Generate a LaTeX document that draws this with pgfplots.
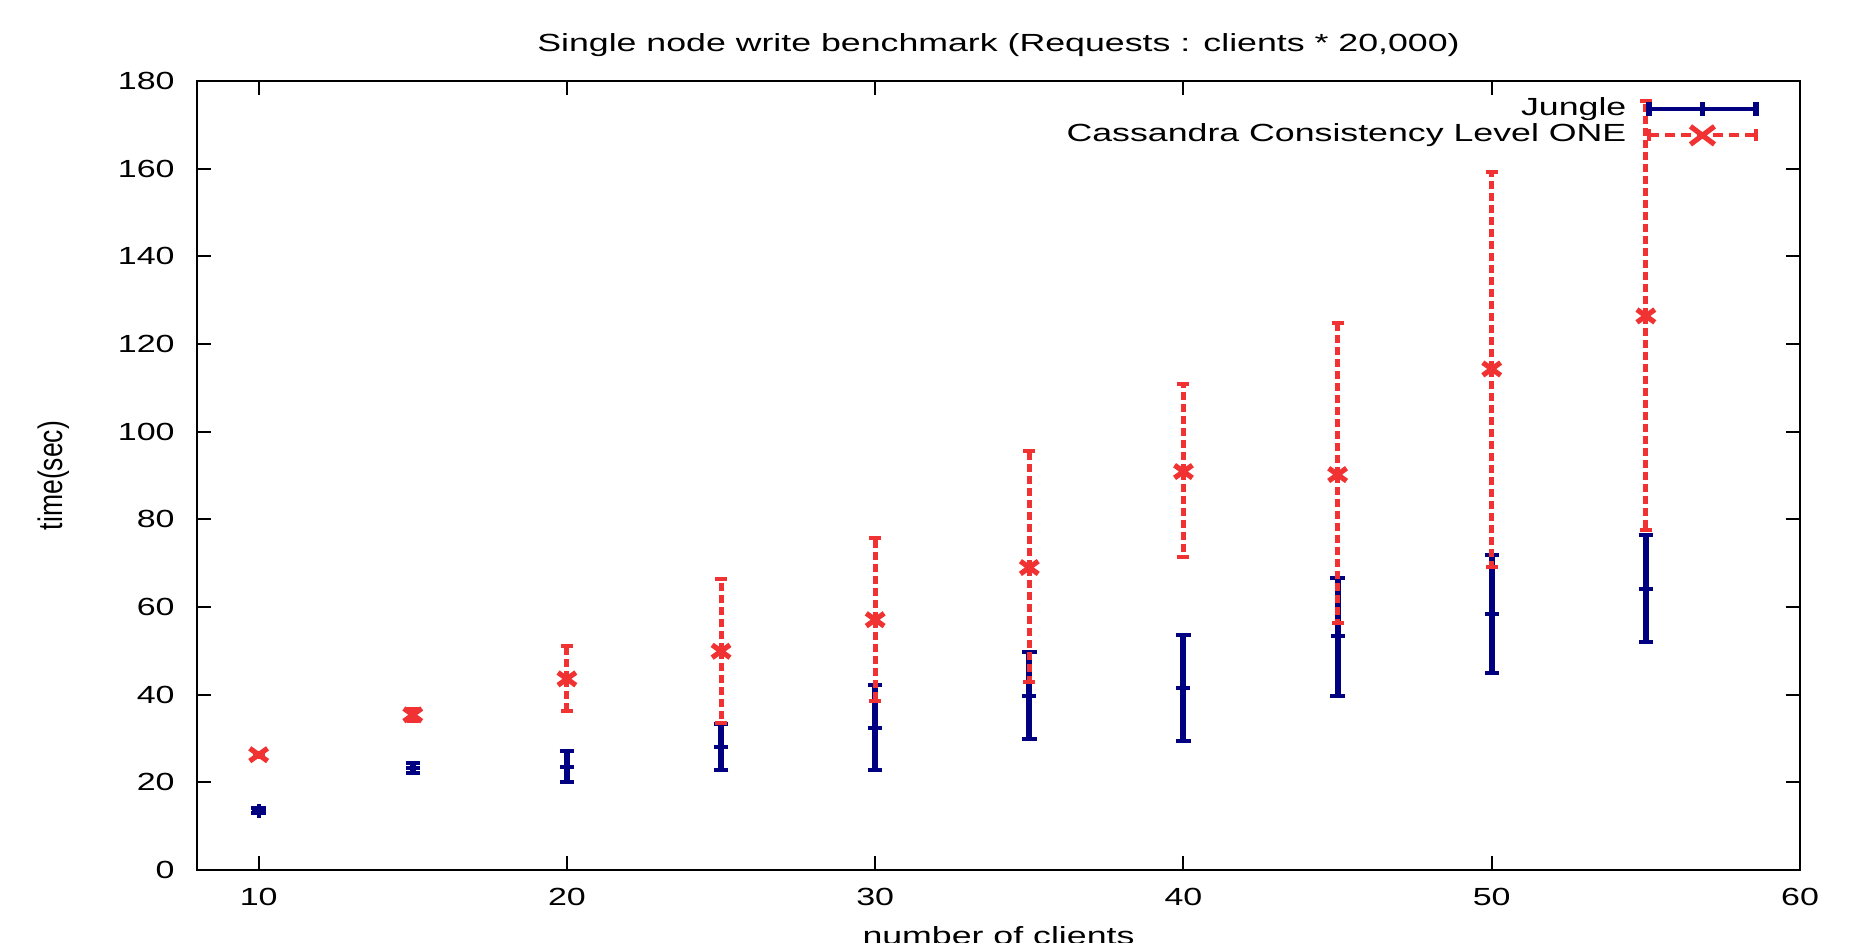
\documentclass[border=0pt]{standalone}
\usepackage{fontspec}
\setmainfont{Liberation Sans}
\usepackage{pgfplots}
\pgfplotsset{compat=1.18}
\usepackage{pgfplotstable}

\definecolor{jblue}{RGB}{0,0,128}
\definecolor{cred}{RGB}{240,50,50}
% gnuplot output was stretched sideways, so stretch the text the same way
\newcommand\sx[1]{\scalebox{1.37}[1]{#1}}
\newcommand\sw[1]{\scalebox{1.44}[1]{#1}}
\newcommand\lbl{\fontsize{12.4}{14}\selectfont}

% x  mean  plus  minus
\pgfplotstableread{
x  y     ep    em
10 13.5  0.6   0.6
15 23.3  1.1   1.1
20 23.5  3.7   3.5
25 28.1  5.1   5.2
30 32.5  9.7   9.7
35 39.6  10.1  9.8
40 41.5  12.2  12.1
45 53.3  13.4  13.6
50 58.4  13.5  13.5
55 64.1  12.4  12.1
}\jungle

\pgfplotstableread{
x  y      ep    em
10 26.3   0.5   0.5
15 35.4   1.3   1.3
20 43.6   7.6   7.4
25 49.9   16.4  16.3
30 57.1   18.6  18.5
35 69.0   26.6  26.1
40 90.9   19.9  19.4
45 90.2   34.5  33.9
50 114.3  45.0  45.1
55 126.4  49.0  48.9
}\cassandra

\begin{document}
\begin{tikzpicture}
\begin{axis}[
    scale only axis,
    width=801.5pt, height=394.5pt,
    xmin=8, xmax=60, ymin=0, ymax=180,
    xtick={10,20,30,40,50,60},
    xticklabels={\sx{10},\sx{20},\sx{30},\sx{40},\sx{50},\sx{60}},
    ytick={0,20,40,60,80,100,120,140,160,180},
    yticklabels={\sx{0},\sx{20},\sx{40},\sx{60},\sx{80},\sx{100},\sx{120},\sx{140},\sx{160},\sx{180}},
    xtick pos=both, ytick pos=both,
    xticklabel pos=lower, yticklabel pos=left,
    tick align=inside,
    major tick length=7pt,
    every tick/.style={black, line width=1pt},
    axis line style={line width=1.1pt},
    font=\lbl,
    xticklabel style={anchor=north, inner sep=0pt, yshift=-9pt},
    yticklabel style={anchor=east, inner sep=0pt, xshift=-11pt},
    every axis title/.style={at={(axis description cs:0.5,1.046)}, anchor=center, font=\lbl},
    every axis x label/.style={at={(axis description cs:0.5,-0.071)}, anchor=north, inner sep=0pt, font=\lbl},
    every axis y label/.style={at={(axis description cs:-0.0896,0.5)}, anchor=center, rotate=90, font=\lbl},
    title={\sw{Single node write benchmark (Requests : clients * 20,000)}},
    xlabel={\sw{number of clients}},
    ylabel={\scalebox{1.07}[1.37]{time(sec)}},
    legend style={at={(axis description cs:0.9744,0.981)}, anchor=north east,
        draw=none, fill=none, inner sep=0pt, row sep=0pt, column sep=9pt,
        nodes={inner sep=1pt, text height=8.6pt, text depth=2.4pt}, font=\lbl},
    legend plot pos=right,
    legend cell align=right,
]

\addplot[only marks, jblue, mark=+, mark size=3.5pt, mark options={line width=2pt},
    legend image code/.code={
        \draw[jblue, line width=2pt] (0pt,0pt) -- (53.5pt,0pt);
        \draw[jblue, line width=2.6pt] (0pt,-3.5pt) -- (0pt,3.5pt)
            (53.5pt,-3.5pt) -- (53.5pt,3.5pt)
            (26.75pt,-3.5pt) -- (26.75pt,3.5pt);
    },
    error bars/.cd, y dir=both, y explicit,
    error bar style={line width=3pt, jblue},
    error mark options={rotate=90, jblue, line width=2pt, mark size=3.6pt}]
    table[x=x, y=y, y error plus=ep, y error minus=em]{\jungle};
\addlegendentry{\sw{Jungle}}

\addplot[only marks, cred, mark=x, mark size=4.5pt,
    mark options={solid, line width=2.6pt, xscale=1.4},
    legend image code/.code={
        \draw[cred, line width=2pt, dash pattern=on 5pt off 3pt] (0pt,0pt) -- (53.5pt,0pt);
        \draw[cred, line width=2.4pt] (0pt,-3pt) -- (0pt,3pt)
            (53.5pt,-3pt) -- (53.5pt,3pt);
        \draw[cred, line width=2.6pt] (20.75pt,-4.5pt) -- (32.75pt,4.5pt)
            (20.75pt,4.5pt) -- (32.75pt,-4.5pt);
    },
    error bars/.cd, y dir=both, y explicit,
    error bar style={line width=2.5pt, cred, dash pattern=on 4pt off 2pt},
    error mark options={rotate=90, cred, solid, line width=2pt, mark size=3pt}]
    table[x=x, y=y, y error plus=ep, y error minus=em]{\cassandra};
\addlegendentry{\sw{Cassandra Consistency Level ONE}}

\end{axis}
\pgfresetboundingbox
\path[use as bounding box] ([shift={(-98.5pt,-36pt)}]current axis.south west)
    rectangle ([shift={(25.5pt,40.5pt)}]current axis.north east);
\end{tikzpicture}
\end{document}
